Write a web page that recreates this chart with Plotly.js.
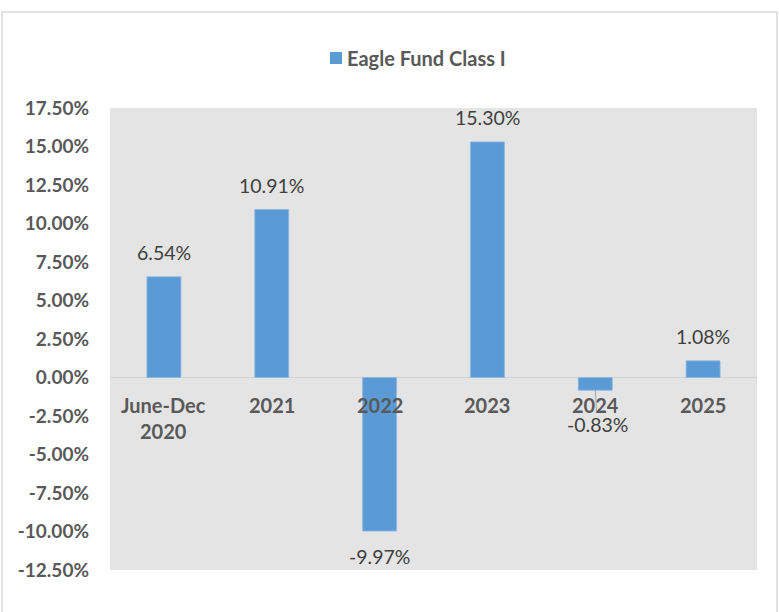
<!DOCTYPE html>
<html>
<head>
<meta charset="utf-8">
<script src="https://cdn.plot.ly/plotly-3.0.1.min.js"></script>
<style>
html,body{margin:0;padding:0;background:#fff;}
#chart{width:779px;height:612px;}
</style>
</head>
<body>
<div id="chart"></div>
<script>
const categories = ["June-Dec<br>2020", "2021", "2022", "2023", "2024", "2025"];
const returns = [6.54, 10.91, -9.97, 15.30, -0.83, 1.08];
const valueLabels = ["6.54%", "10.91%", "-9.97%", "15.30%", "-0.83%", "1.08%"];
const seriesName = "Eagle Fund Class I";
const yTickVals = [-12.5, -10, -7.5, -5, -2.5, 0, 2.5, 5, 7.5, 10, 12.5, 15, 17.5];
const yTickText = ["-12.50%", "-10.00%", "-7.50%", "-5.00%", "-2.50%", "0.00%", "2.50%", "5.00%", "7.50%", "10.00%", "12.50%", "15.00%", "17.50%"];

const FONT = "Lato, 'Open Sans', sans-serif";

const trace = {
  type: "bar",
  x: categories,
  y: returns,
  name: seriesName,
  marker: {color: "#5B9BD5", line: {color: "#8DB8E2", width: 0.8}},
  showlegend: false,
  hoverinfo: "skip"
};

const annotations = [];
// category labels near the zero line (x = category position index)
categories.forEach((c, i) => {
  annotations.push({
    x: i, y: 0, xref: "x", yref: "y",
    text: "<b>" + c + "</b>",
    showarrow: false, yanchor: "top", yshift: -13,
    font: {family: FONT, size: 20, color: "#595959"}
  });
});
// value labels
returns.forEach((v, i) => {
  if (i === 4) {
    annotations.push({
      x: i, y: v, xref: "x", yref: "y",
      text: valueLabels[i], showarrow: true, arrowhead: 0, arrowwidth: 1,
      arrowcolor: "#A6A6A6", ax: 2, ay: 34, standoff: 0,
      font: {family: FONT, size: 19.5, color: "#404040"}
    });
  } else {
    annotations.push({
      x: i, y: v, xref: "x", yref: "y",
      text: valueLabels[i], showarrow: false, yanchor: "middle",
      yshift: v >= 0 ? 24 : -25,
      font: {family: FONT, size: 19.5, color: "#404040"}
    });
  }
});
// legend text
annotations.push({
  xref: "paper", yref: "paper", x: (345 - 110) / 647, y: (570 - 58) / 462,
  xanchor: "left", yanchor: "middle", showarrow: false,
  text: "<b>" + seriesName + "</b>",
  font: {family: FONT, size: 20, color: "#595959"}
});

const layout = {
  width: 779, height: 612,
  margin: {l: 110, r: 22, t: 108, b: 42},
  paper_bgcolor: "#FFFFFF",
  plot_bgcolor: "#E4E4E4",
  bargap: 0.685,
  font: {family: FONT, color: "#595959"},
  xaxis: {type: "category", range: [-0.5, categories.length - 0.5], showticklabels: false, showgrid: false, zeroline: false, showline: false, ticks: "", fixedrange: true},
  yaxis: {
    range: [-12.5, 17.5], tickvals: yTickVals, ticktext: yTickText,
    showgrid: false, zeroline: true, zerolinecolor: "#D2D2D2", zerolinewidth: 1.5,
    showline: false, ticks: "", ticklabelstandoff: 20,
    tickfont: {family: FONT, size: 19, color: "#595959", weight: "bold"}
  },
  showlegend: false,
  annotations: annotations,
  shapes: [{
    type: "rect", xref: "paper", yref: "paper",
    x0: (2 - 110) / 647, x1: (777 - 110) / 647,
    y0: (570 - 640) / 462, y1: (570 - 12) / 462,
    line: {color: "#D9D9D9", width: 1.5}, fillcolor: "rgba(0,0,0,0)", layer: "below"
  }, {
    type: "rect", xref: "paper", yref: "paper",
    x0: (330 - 110) / 647, x1: (342 - 110) / 647,
    y0: (570 - 64) / 462, y1: (570 - 52) / 462,
    line: {width: 0}, fillcolor: "#5B9BD5"
  }]
};

Plotly.newPlot("chart", [trace], layout, {displayModeBar: false, staticPlot: true});
</script>
</body>
</html>
